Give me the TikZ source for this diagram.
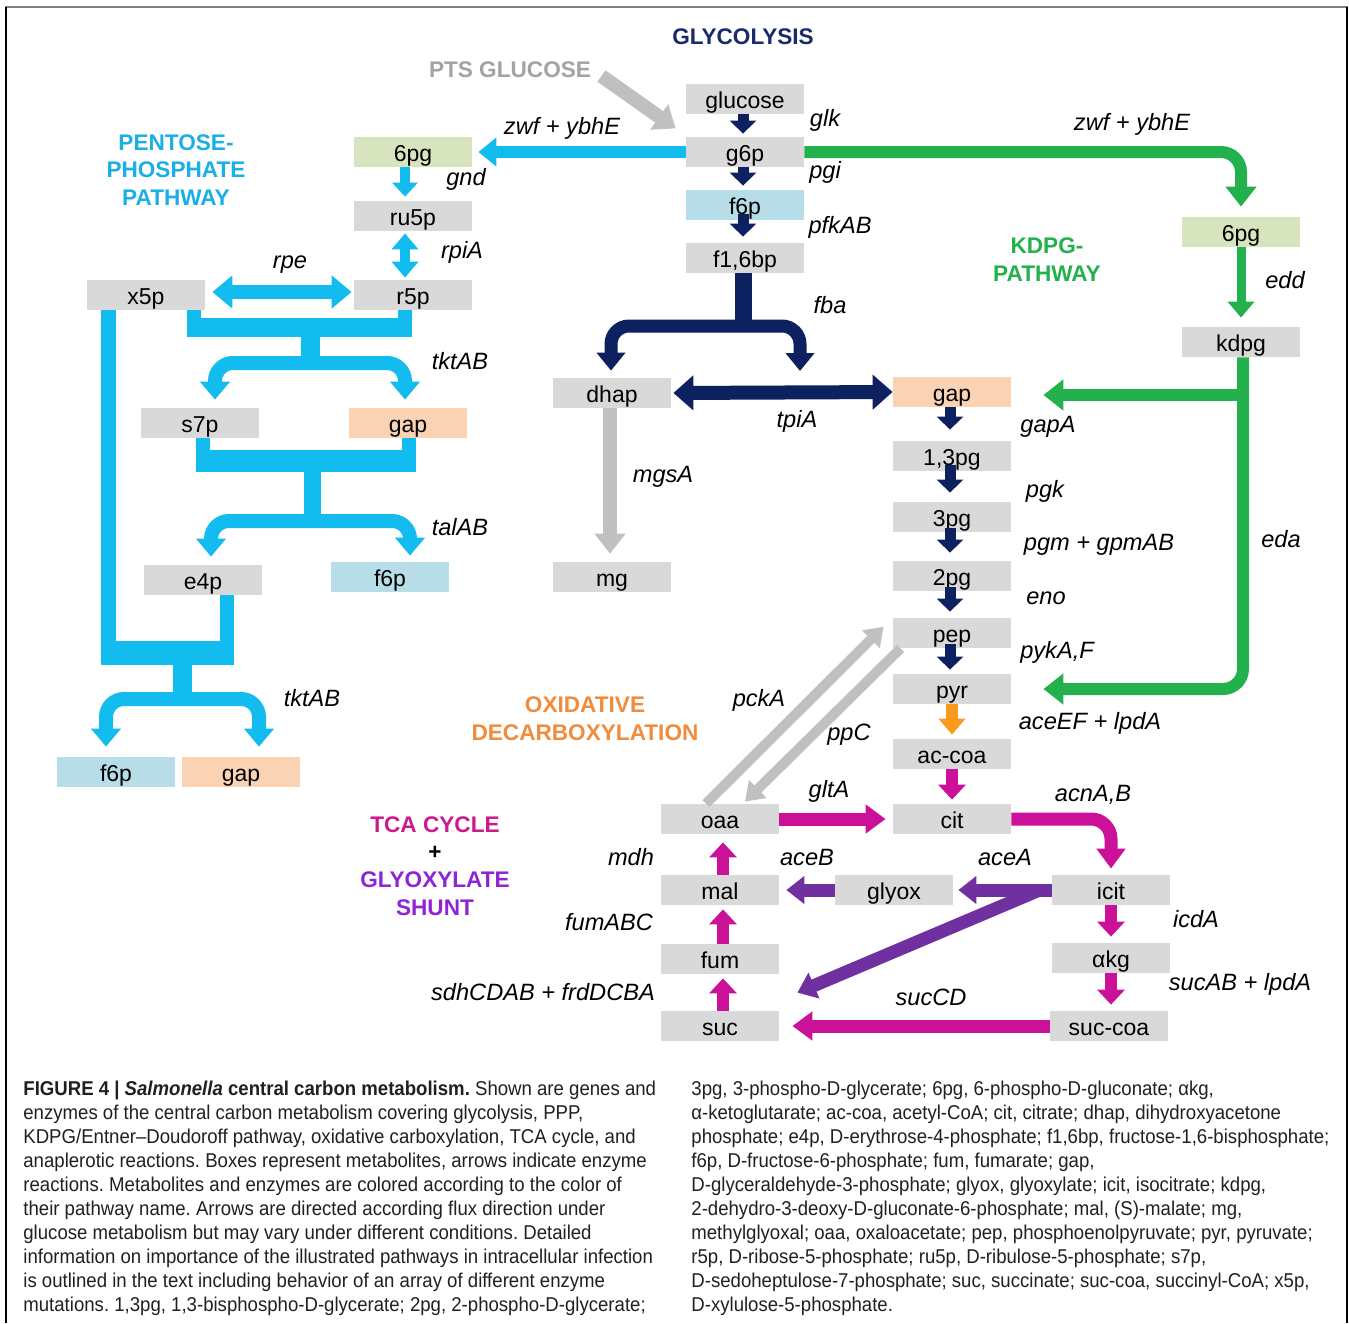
\documentclass[tikz,border=0pt]{standalone}
\usepackage{fontspec}
\setmainfont{Liberation Sans}
\newfontfamily\capfont[FakeStretch=0.93,Ligatures=TeX]{Liberation Sans}
\usetikzlibrary{arrows.meta,calc}
\definecolor{boxgray}{HTML}{D9D9D9}
\definecolor{lgreen}{HTML}{D7E4BD}
\definecolor{lblue}{HTML}{B7DDE8}
\definecolor{peach}{HTML}{FAD3B5}
\definecolor{navy}{HTML}{0D2060}
\definecolor{cy}{HTML}{12BCEE}
\definecolor{gr}{HTML}{22B14C}
\definecolor{mag}{HTML}{CC1199}
\definecolor{pur}{HTML}{7030A0}
\definecolor{orA}{HTML}{F89B1C}
\definecolor{orT}{HTML}{F08C3C}
\definecolor{garr}{HTML}{C0C0C0}
\definecolor{gtxt}{HTML}{A3A3A3}
\definecolor{tcac}{HTML}{CC1A8E}
\definecolor{glxc}{HTML}{8E24D6}
\definecolor{cytxt}{HTML}{1AAFE6}
\definecolor{navtxt}{HTML}{1B2A6B}
\definecolor{captxt}{HTML}{231F20}
\tikzset{
  mbox/.style={rectangle, fill=boxgray, minimum width=59pt, minimum height=15pt, inner sep=0pt,
    text height=9pt, text depth=0pt, font=\fontsize{11.5}{13}\selectfont},
  gene/.style={font=\fontsize{11.8}{13}\selectfont\itshape, inner sep=0pt},
  ttl/.style={font=\fontsize{11.3}{13.9}\selectfont\bfseries, align=center, inner sep=0pt},
  navyS/.style={draw=navy, line width=5.5pt, -{Triangle[width=13pt,length=6.5pt]}},
  cyS/.style={draw=cy, line width=5pt, -{Triangle[width=12.5pt,length=7pt]}},
  cyA/.style={draw=cy, line width=6pt, -{Triangle[width=14pt,length=9pt]}},
  cyB/.style={draw=cy, line width=7pt, -{Triangle[width=14.5pt,length=9pt]}},
  grA/.style={draw=gr, line width=6pt, -{Triangle[width=15pt,length=10pt]}},
  grS/.style={draw=gr, line width=4.5pt, -{Triangle[width=13pt,length=8pt]}},
  magS/.style={draw=mag, line width=6pt, -{Triangle[width=13.5pt,length=7.5pt]}},
  magL/.style={draw=mag, line width=6.5pt, -{Triangle[width=14pt,length=10pt]}},
  purL/.style={draw=pur, line width=6.5pt, -{Triangle[width=13.5pt,length=9pt]}},
  grayS/.style={draw=garr, line width=5pt, -{Triangle[width=12pt,length=9pt]}},
  grayL/.style={draw=garr, line width=7pt, -{Triangle[width=15pt,length=10pt]}},
  captext/.style={anchor=north west, inner sep=0pt, align=left, text=captxt,
    font=\capfont\fontsize{10}{12}\selectfont\frenchspacing},
}
\begin{document}
\begin{tikzpicture}[x=0.5pt,y=-0.5pt]
\useasboundingbox (0,0) rectangle (1349,1323);
\fill[white] (0,0) rectangle (1349,1323);
% frame
\draw[gray, line width=1.2pt] (5,7) -- (1348,7);
\draw[black, line width=1pt] (6,7) -- (6,1323);
\draw[black, line width=1pt] (1347,7) -- (1347,1323);

% ---------- boxes ----------
\node[mbox] (glucose) at (745,99) {glucose};
\node[mbox] (g6p) at (745,152) {g6p};
\node[mbox, fill=lblue] (f6p) at (745,205) {f6p};
\node[mbox] (f16bp) at (745,258) {f1,6bp};
\node[mbox, fill=lgreen] (pgL) at (413,152) {6pg};
\node[mbox] (ru5p) at (413,216) {ru5p};
\node[mbox] (r5p) at (413,295) {r5p};
\node[mbox] (x5p) at (146,295) {x5p};
\node[mbox] (s7p) at (200,423) {s7p};
\node[mbox, fill=peach] (gapA) at (408,423) {gap};
\node[mbox] (e4p) at (203,580) {e4p};
\node[mbox, fill=lblue] (f6pA) at (390,577) {f6p};
\node[mbox, fill=lblue] (f6pB) at (116,772) {f6p};
\node[mbox, fill=peach] (gapB) at (241,772) {gap};
\node[mbox] (dhap) at (612,393) {dhap};
\node[mbox] (mg) at (612,577) {mg};
\node[mbox, fill=peach] (gap) at (952,392) {gap};
\node[mbox] (bpg) at (952,456) {1,3pg};
\node[mbox] (pg3) at (952,517) {3pg};
\node[mbox] (pg2) at (952,576) {2pg};
\node[mbox] (pep) at (952,633) {pep};
\node[mbox] (pyr) at (952,689) {pyr};
\node[mbox] (accoa) at (952,754) {ac-coa};
\node[mbox] (cit) at (952,819) {cit};
\node[mbox, fill=lgreen] (pgR) at (1241,232) {6pg};
\node[mbox] (kdpg) at (1241,342) {kdpg};
\node[mbox] (oaa) at (720,819) {oaa};
\node[mbox] (mal) at (720,890) {mal};
\node[mbox] (fum) at (720,959) {fum};
\node[mbox] (suc) at (720,1026) {suc};
\node[mbox] (glyox) at (894,890) {glyox};
\node[mbox] (icit) at (1111,890) {icit};
\node[mbox] (akg) at (1111,958) {αkg};
\node[mbox] (succoa) at (1109,1026) {suc-coa};

% ---------- titles ----------
\node[ttl, text=navtxt] (tglyc) at (743,37) {GLYCOLYSIS};
\node[ttl, text=gtxt] (pts) at (510,70) {PTS GLUCOSE};
\node[ttl, text=cytxt] (tppp) at (176,170) {PENTOSE-\\PHOSPHATE\\PATHWAY};
\node[ttl, text=gr] (tkdpg) at (1047,260) {KDPG-\\PATHWAY};
\node[ttl, text=orT] (toxd) at (585,719) {OXIDATIVE\\DECARBOXYLATION};
\node[ttl] (ttca) at (435,866) {{\color{tcac}TCA CYCLE}\\{\color{black}+}\\{\color{glxc}GLYOXYLATE}\\{\color{glxc}SHUNT}};

% ---------- gene labels ----------
\node[gene] (lzwfL) at (562,128) {zwf + ybhE};
\node[gene] (lzwfR) at (1132,124) {zwf + ybhE};
\node[gene] (lglk) at (825,120) {glk};
\node[gene] (lpgi) at (825,172) {pgi};
\node[gene] (lpfk) at (840,227) {pfkAB};
\node[gene] (lfba) at (830,305) {fba};
\node[gene] (lgnd) at (466,179) {gnd};
\node[gene] (lrpi) at (462,252) {rpiA};
\node[gene] (lrpe) at (290,265) {rpe};
\node[gene] (ltkt1) at (460,361) {tktAB};
\node[gene] (ltal) at (460,527) {talAB};
\node[gene] (ltkt2) at (312,698) {tktAB};
\node[gene] (ltpi) at (797,421) {tpiA};
\node[gene] (lmgs) at (663,477) {mgsA};
\node[gene] (lgapA) at (1048,427) {gapA};
\node[gene] (lpgk) at (1045,491) {pgk};
\node[gene] (lpgm) at (1099,545) {pgm + gpmAB};
\node[gene] (leno) at (1046,598) {eno};
\node[gene] (lpyk) at (1057,652) {pykA,F};
\node[gene] (lace) at (1090,723) {aceEF + lpdA};
\node[gene] (ledd) at (1285,280) {edd};
\node[gene] (leda) at (1281,539) {eda};
\node[gene] (lpck) at (759,700) {pckA};
\node[gene] (lppc) at (849,735) {ppC};
\node[gene] (lglt) at (829,791) {gltA};
\node[gene] (lacn) at (1093,795) {acnA,B};
\node[gene] (lmdh) at (631,857) {mdh};
\node[gene] (laceB) at (807,857) {aceB};
\node[gene] (laceA) at (1005,857) {aceA};
\node[gene] (lfum) at (609,922) {fumABC};
\node[gene] (licd) at (1196,919) {icdA};
\node[gene] (lsdh) at (543,992) {sdhCDAB + frdDCBA};
\node[gene] (lsuccd) at (931,997) {sucCD};
\node[gene] (lsucab) at (1240,984) {sucAB + lpdA};

% ---------- glycolysis ----------
\draw[navyS] ([xshift=-1pt]glucose.south) -- ([xshift=-1pt,yshift=1.5pt]g6p.north);
\draw[navyS] ([xshift=-1pt]g6p.south) -- ([xshift=-1pt,yshift=2pt]f6p.north);
\draw[navyS] ([xshift=-1pt,yshift=3pt]f6p.south) -- ([xshift=-1pt,yshift=3pt]f16bp.north);
\coordinate (fbaJ) at (743,326);
\coordinate (fbaR) at (800,371);
\draw[navy, line width=8.5pt] ([xshift=-1pt]f16bp.south) -- (fbaJ);
\draw[navy, line width=6.5pt, rounded corners=9pt, {Triangle[width=14pt,length=9pt]}-{Triangle[width=14pt,length=9pt]}]
  ([xshift=-0.5pt,yshift=3.5pt]dhap.north) |- (fbaJ) -| (fbaR);
\draw[navy, line width=7pt, {Triangle[width=17pt,length=10pt]}-{Triangle[width=17pt,length=10pt]}]
  ([xshift=1pt]dhap.east) -- (gap.west);
\draw[grayL] ([xshift=-1pt]dhap.south) -- ([xshift=-1pt,yshift=4pt]mg.north);
\draw[navyS] ([xshift=-1pt]gap.south) -- ([xshift=-1pt,yshift=5.5pt]bpg.north);
\draw[navyS] ([xshift=-1pt,yshift=3pt]bpg.south) -- ([xshift=-1pt,yshift=4.5pt]pg3.north);
\draw[navyS] ([xshift=-1pt,yshift=2pt]pg3.south) -- ([xshift=-1pt,yshift=4pt]pg2.north);
\draw[navyS] ([xshift=-1pt,yshift=2pt]pg2.south) -- ([xshift=-1pt,yshift=3pt]pep.north);
\draw[navyS] ([xshift=-1pt,yshift=2pt]pep.south) -- ([xshift=-1pt,yshift=2pt]pyr.north);
\draw[draw=orA, line width=6pt, -{Triangle[width=13pt,length=8pt]}] (pyr.south) -- ([yshift=2pt]accoa.north);
\draw[magS] (accoa.south) -- ([yshift=2pt]cit.north);

% PTS
\draw[grayL] ([xshift=5pt,yshift=-3pt]pts.east) -- ([xshift=-5pt,yshift=-7pt]glucose.south west);

% ---------- pentose phosphate ----------
\draw[cyA] (g6p.west) -- ([xshift=3pt]pgL.east);
\draw[cyS] ([xshift=-4pt]pgL.south) -- ([xshift=-4pt,yshift=2pt]ru5p.north);
\draw[draw=cy, line width=5pt, {Triangle[width=13pt,length=8pt]}-{Triangle[width=13pt,length=8pt]}]
  ([xshift=-4pt,yshift=-1pt]ru5p.south) -- ([xshift=-4pt,yshift=1pt]r5p.north);
\draw[draw=cy, line width=7pt, {Triangle[width=16pt,length=10pt]}-{Triangle[width=16pt,length=10pt]}]
  ([xshift=3.5pt,yshift=1.5pt]x5p.east) -- ([xshift=-1pt,yshift=1.5pt]r5p.west);
% tktAB upper
\fill[cy] (187,310) rectangle (201,320);
\fill[cy] (398,310) rectangle (412,320);
\fill[cy] (187,318) rectangle (412,337);
\fill[cy] (301,336) rectangle (320,360);
\draw[cyB, {Triangle[width=14.5pt,length=9pt]}-{Triangle[width=14.5pt,length=9pt]}, rounded corners=9pt]
  ([xshift=7.5pt,yshift=4pt]s7p.north) |- (310,363) -| ([xshift=-1.5pt,yshift=4pt]gapA.north);
% talAB
\fill[cy] (196,438) rectangle (210,452);
\fill[cy] (402,438) rectangle (416,452);
\fill[cy] (196,450) rectangle (416,472);
\fill[cy] (304,471) rectangle (321,515);
\draw[cyB, {Triangle[width=14.5pt,length=9pt]}-{Triangle[width=14.5pt,length=9pt]}, rounded corners=9pt]
  ([xshift=4pt,yshift=4pt]e4p.north) |- (312,521) -| ([xshift=10pt,yshift=3pt]f6pA.north);
% tktAB lower
\fill[cy] (101,310) rectangle (116,665);
\fill[cy] (220,595) rectangle (234,645);
\fill[cy] (101,641) rectangle (234,665);
\fill[cy] (173,664) rectangle (192,692);
\draw[cyB, {Triangle[width=14.5pt,length=9pt]}-{Triangle[width=14.5pt,length=9pt]}, rounded corners=9pt]
  ([xshift=-5pt,yshift=5pt]f6pB.north) |- (182,699) -| ([xshift=9pt,yshift=5pt]gapB.north);

% ---------- KDPG ----------
\draw[grA, rounded corners=10pt] (g6p.east) -| ([yshift=5pt]pgR.north);
\draw[grS] (pgR.south) -- ([yshift=4.5pt]kdpg.north);
\draw[grA, rounded corners=10pt] ([xshift=1pt]kdpg.south) |- ([xshift=16pt]pyr.east);
\draw[grA] ($(kdpg.south |- gap.east)+(1pt,-1.5pt)$) -- ([xshift=16pt,yshift=-1.5pt]gap.east);

% ---------- TCA ----------
\draw[grayS] ([xshift=-7pt]oaa.north) -- ([xshift=-4.5pt,yshift=-4.5pt]pep.north west);
\draw[grayS] ([xshift=4pt]pep.south west) -- ([xshift=12.5pt,yshift=1pt]oaa.north);
\draw[magL] (oaa.east) -- ([xshift=-3.5pt]cit.west);
\draw[magL, rounded corners=10pt] (cit.east) -| ([yshift=3pt]icit.north);
\draw[magS] (icit.south) -- ([yshift=3pt]akg.north);
\draw[magS] (akg.south) -- ($(akg.south |- succoa.north)+(0,3pt)$);
\draw[magL] (succoa.west) -- ([xshift=6.5pt]suc.east);
\draw[magS] ([xshift=1.5pt]mal.north) -- ([xshift=1.5pt,yshift=-4pt]oaa.south);
\draw[magS] ([xshift=1.5pt]fum.north) -- ([xshift=1.5pt,yshift=-2pt]mal.south);
\draw[magS] ([xshift=1.5pt]suc.north) -- ([xshift=1.5pt,yshift=-2pt]fum.south);
\draw[purL] (icit.west) -- ([xshift=2.5pt]glyox.east);
\draw[purL] ([xshift=-6pt]icit.west) -- ([xshift=9pt,yshift=9pt]suc.north east);
\draw[purL] (glyox.west) -- ([xshift=3.5pt]mal.east);

% ---------- caption ----------
\node[captext] (capL) at (23,1081) {%
{\bfseries FIGURE 4 | \itshape Salmonella\upshape{} central carbon metabolism.} Shown are genes and\\
enzymes of the central carbon metabolism covering glycolysis, PPP,\\
KDPG/Entner–Doudoroff pathway, oxidative carboxylation, TCA cycle, and\\
anaplerotic reactions. Boxes represent metabolites, arrows indicate enzyme\\
reactions. Metabolites and enzymes are colored according to the color of\\
their pathway name. Arrows are directed according flux direction under\\
glucose metabolism but may vary under different conditions. Detailed\\
information on importance of the illustrated pathways in intracellular infection\\
is outlined in the text including behavior of an array of different enzyme\\
mutations. 1,3pg, 1,3-bisphospho-D-glycerate; 2pg, 2-phospho-D-glycerate;};
\node[captext] (capR) at (691,1081) {%
3pg, 3-phospho-D-glycerate; 6pg, 6-phospho-D-gluconate; αkg,\\
α-ketoglutarate; ac-coa, acetyl-CoA; cit, citrate; dhap, dihydroxyacetone\\
phosphate; e4p, D-erythrose-4-phosphate; f1,6bp, fructose-1,6-bisphosphate;\\
f6p, D-fructose-6-phosphate; fum, fumarate; gap,\\
D-glyceraldehyde-3-phosphate; glyox, glyoxylate; icit, isocitrate; kdpg,\\
2-dehydro-3-deoxy-D-gluconate-6-phosphate; mal, (S)-malate; mg,\\
methylglyoxal; oaa, oxaloacetate; pep, phosphoenolpyruvate; pyr, pyruvate;\\
r5p, D-ribose-5-phosphate; ru5p, D-ribulose-5-phosphate; s7p,\\
D-sedoheptulose-7-phosphate; suc, succinate; suc-coa, succinyl-CoA; x5p,\\
D-xylulose-5-phosphate.};
\end{tikzpicture}
\end{document}
